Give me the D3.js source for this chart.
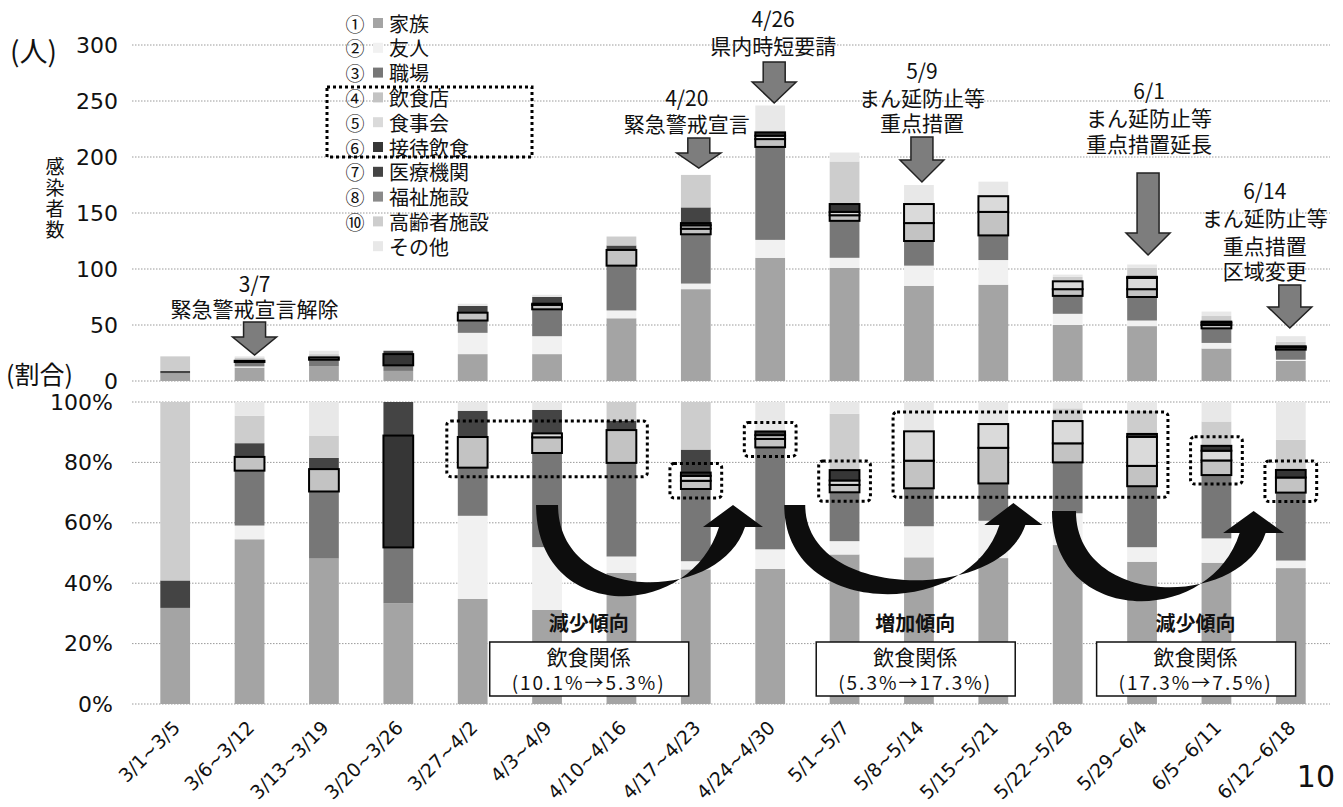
<!DOCTYPE html>
<html>
<head>
<meta charset="utf-8">
<script src="https://cdn.jsdelivr.net/npm/d3@7"></script>
<style>
  body { margin: 0; background: #fff; }
  svg text { font-family: "Noto Sans CJK JP", "Noto Sans", sans-serif; fill: #111; }
</style>
</head>
<body>
<svg id="chart" width="1343" height="807"></svg>
<script>
// Weekly infections by route (people)
const weeks = ["3/1~3/5","3/6~3/12","3/13~3/19","3/20~3/26","3/27~4/2","4/3~4/9","4/10~4/16","4/17~4/23",
               "4/24~4/30","5/1~5/7","5/8~5/14","5/15~5/21","5/22~5/28","5/29~6/4","6/5~6/11","6/12~6/18"];
const family     = [7,12,13, 9,24,24,56,82,110,101,85,86,50,49,29,18];
const friends    = [0, 1, 0, 0,19,16, 7, 5, 16,  9,18,22,10, 5, 5, 1];
const workplace  = [0, 4, 6, 5,11,24,40,44, 83, 33,22,22,16,21,13, 9];
const restaurant = [0, 1, 2, 0, 7, 4,14, 5,  7,  5,16,21, 6, 7, 3, 2];
const dinner     = [0, 0, 0, 0, 0, 1, 0, 3,  3,  3,17,14, 7,10, 2, 0];
const hosting    = [0, 0, 0,10, 0, 0, 0, 2,  3,  7, 0, 0, 0, 1, 1, 1];
const medical    = [2, 1, 1, 3, 6, 6, 4,14,  0,  0, 0, 0, 0, 0, 0, 0];
const welfare    = [0, 0, 0, 0, 0, 0, 0, 0,  0,  0, 0, 0, 0, 0, 0, 0];
const elderly    = [13,2, 2, 0, 0, 0, 8,29,  0, 38, 0, 0, 4, 8, 5, 4];
const other      = [0, 1, 3, 0, 2, 2, 0, 0, 24,  8,17,13, 2, 3, 4, 5];

const routeNames = ["家族","友人","職場","飲食店","食事会","接待飲食","医療機関","福祉施設","高齢者施設","その他"];
const routeMarks = ["①","②","③","④","⑤","⑥","⑦","⑧","⑩",""];
const countTicks = [0,50,100,150,200,250,300];
const shareTicks = [0,0.2,0.4,0.6,0.8,1];

// Policy events shown above the count chart
const eventLines = [
  ["3/7","緊急警戒宣言解除"],
  ["4/20","緊急警戒宣言"],
  ["4/26","県内時短要請"],
  ["5/9","まん延防止等","重点措置"],
  ["6/1","まん延防止等","重点措置延長"],
  ["6/14","まん延防止等","重点措置","区域変更"]
];
const trendTitles = ["減少傾向","増加傾向","減少傾向"];
const trendLabel = "飲食関係";
const trendRatios = ["(10.1%→5.3%)","(5.3%→17.3%)","(17.3%→7.5%)"];
const restaurantGroups = [[4,6],[7,7],[8,8],[9,9],[10,13],[14,14],[15,15]];
const pageNumber = "10";

const seriesArrays = [family,friends,workplace,restaurant,dinner,hosting,medical,welfare,elderly,other];
const rows = weeks.map((w,i) => {
  const r = {week: w};
  routeNames.forEach((k,j) => r[k] = seriesArrays[j][i]);
  return r;
});

const fills = {
  "家族":"#a4a4a4","友人":"#f1f1f1","職場":"#777777","飲食店":"#c3c3c3","食事会":"#dadada",
  "接待飲食":"#363636","医療機関":"#444444","福祉施設":"#8a8a8a","高齢者施設":"#cdcdcd","その他":"#e8e8e8"
};
const outlined = new Set(["飲食店","食事会","接待飲食"]);

const svg = d3.select("#chart");

const x = d3.scaleBand().domain(weeks).range([138,1328]).paddingInner(0.6).paddingOuter(0.3);
const yCount = d3.scaleLinear().domain([0,300]).range([381,45]);
const yShare = d3.scaleLinear().domain([0,1]).range([704,402]);
const step = x.step(), bw = x.bandwidth();
const cx = i => x(weeks[0]) + bw/2 + i*step;   // fractional bar index -> centre x

// multi-line text block: one <text>, one <tspan> per line
function textBlock(g, tx, ys, lines, size, anchor) {
  const t = g.append("text").attr("font-size",size).attr("text-anchor",anchor || "middle");
  lines.forEach((s,j) => t.append("tspan").attr("x",tx).attr("y",ys[j])
    .attr("dominant-baseline","central").text(s));
  return t;
}

// grid lines
const gridL = 132, gridR = 1330;
svg.append("g").selectAll("line").data(countTicks).join("line")
  .attr("x1",gridL).attr("x2",gridR).attr("y1",d=>yCount(d)).attr("y2",d=>yCount(d))
  .attr("stroke","#9a9a9a").attr("stroke-width",1).attr("stroke-dasharray","1.5,1.5");
svg.append("g").selectAll("line").data(shareTicks).join("line")
  .attr("x1",gridL).attr("x2",gridR).attr("y1",d=>yShare(d)).attr("y2",d=>yShare(d))
  .attr("stroke","#9a9a9a").attr("stroke-width",1).attr("stroke-dasharray","1.5,1.5");

// y axes
const axCount = svg.append("g").attr("transform","translate(120,0)")
  .call(d3.axisLeft(yCount).tickValues(countTicks).tickSize(0).tickPadding(2));
const axShare = svg.append("g").attr("transform","translate(115,0)")
  .call(d3.axisLeft(yShare).tickValues(shareTicks).tickFormat(d3.format(".0%")).tickSize(0).tickPadding(2));
[axCount, axShare].forEach(a => {
  a.select(".domain").remove();
  a.selectAll("text").attr("font-size",22).attr("fill","#111")
    .style("font-family","'DejaVu Sans', 'Noto Sans CJK JP', sans-serif");
});

svg.append("text").attr("x",10).attr("y",50).attr("dominant-baseline","central")
  .attr("font-size",28).text("(人)");
svg.append("text").attr("x",6).attr("y",373).attr("dominant-baseline","central")
  .attr("font-size",25).text("(割合)");
svg.append("text").attr("x",55).attr("y",157)
  .style("writing-mode","vertical-rl").attr("font-size",19).attr("letter-spacing",2)
  .text("感染者数");

// stacked bars
function drawStack(g, stacked, y) {
  const layers = g.selectAll("g.layer").data(stacked).join("g").attr("class","layer")
    .attr("fill", d => fills[d.key]);
  layers.selectAll("rect").data(d => d.map(v => Object.assign(v,{key:d.key})).filter(v => v[1] > v[0]))
    .join("rect")
    .attr("x", d => x(d.data.week)).attr("width", bw)
    .attr("y", d => y(d[1])).attr("height", d => y(d[0]) - y(d[1]))
    .attr("stroke", d => outlined.has(d.key) ? "#000" : "none")
    .attr("stroke-width", 2);
  layers.filter(d => outlined.has(d.key)).raise();
}
const stackCount = d3.stack().keys(routeNames)(rows);
const stackShare = d3.stack().keys(routeNames).offset(d3.stackOffsetExpand)(rows);
drawStack(svg.append("g"), stackCount, yCount);
drawStack(svg.append("g"), stackShare, yShare);

// x labels
svg.append("g").selectAll("text").data(weeks).join("text")
  .attr("transform", d => `translate(${x(d)+bw/2+6},729) rotate(-45)`)
  .attr("text-anchor","end").attr("font-size",19)
  .style("font-family","'DejaVu Sans', 'Noto Sans CJK JP', sans-serif").text(d => d);

// legend
const lg = svg.append("g");
const legendY = routeNames.map((k,i) => 23 + i*24.8);
textBlock(lg, 355, legendY, routeMarks, 19, "middle");
lg.selectAll("rect.sw").data(routeNames).join("rect").attr("class","sw")
  .attr("x",373).attr("y",(k,i)=>legendY[i]-5).attr("width",10).attr("height",10).attr("fill",k=>fills[k]);
textBlock(lg, 389, legendY, routeNames, 20, "start");
lg.append("rect").attr("x",327).attr("y",87).attr("width",205).attr("height",70)
  .attr("fill","none").attr("stroke","#000").attr("stroke-width",3).attr("stroke-dasharray","3,3");

// dotted frames around the restaurant-related segments (share chart)
const rIdx = routeNames.indexOf("飲食店"), hIdx = routeNames.indexOf("接待飲食");
svg.append("g").selectAll("rect").data(restaurantGroups).join("rect")
  .each(function([a,b]) {
    let lo = 1, hi = 0;
    for (let i = a; i <= b; i++) {
      lo = Math.min(lo, stackShare[rIdx][i][0]);
      hi = Math.max(hi, stackShare[hIdx][i][1]);
    }
    const x0 = x(weeks[a]) - 11, x1 = x(weeks[b]) + bw + 11;
    d3.select(this).attr("x",x0).attr("width",x1-x0)
      .attr("y",yShare(hi)-9).attr("height",yShare(lo)-yShare(hi)+18);
  })
  .attr("rx",4).attr("fill","none").attr("stroke","#000").attr("stroke-width",3).attr("stroke-dasharray","3,3");

// curved trend arrows
function curvedArrow(tailC, tailW, tipX, topY, tipY, baseY, bottomY, headW) {
  const L = tailC - tailW/2, R = tailC + tailW/2;
  const jL = tipX - 14, jR = tipX + 12;
  const k = 0.125*(topY + baseY);
  const yo = (bottomY - k)/0.75, yi = (bottomY - 14 - k)/0.75;
  return `M${L},${topY} C${L},${yo} ${jL-30},${yo} ${jL},${baseY}` +
         ` L${tipX-headW/2},${baseY} L${tipX},${tipY} L${tipX+headW/2},${baseY} L${jR},${baseY}` +
         ` C${jR-25},${yi} ${R},${yi} ${R},${topY} Z`;
}
const curveLayout = [
  {from:5,    w:22, to:7.5,  top:505, tip:505, base:527, bottom:596, head:60},
  {from:8.33, w:21, to:11.27,top:505, tip:503, base:525, bottom:594, head:58},
  {from:11.95,w:24, to:14.5, top:511, tip:511, base:533, bottom:601, head:61}
];
svg.append("g").selectAll("path").data(curveLayout).join("path")
  .attr("d", d => curvedArrow(cx(d.from), d.w, cx(d.to), d.top, d.tip, d.base, d.bottom, d.head))
  .attr("fill","#0d0d0d");

// trend captions
const captionPos = [5.56, 9.95, 13.72];
trendTitles.forEach((t,i) => {
  const c = cx(captionPos[i]);
  svg.append("text").attr("x",c).attr("y",622).attr("text-anchor","middle").attr("dominant-baseline","central")
    .attr("font-size",20).attr("font-weight","bold").text(t);
  svg.append("rect").attr("x",c-99).attr("y",642).attr("width",199).attr("height",54)
    .attr("fill","#fff").attr("stroke","#111").attr("stroke-width",1.5);
  const tb = svg.append("text").attr("text-anchor","middle");
  tb.append("tspan").attr("x",c).attr("y",656).attr("dominant-baseline","central")
    .attr("font-size",21).text(trendLabel);
  tb.append("tspan").attr("x",c).attr("y",681).attr("dominant-baseline","central")
    .attr("font-size",19).attr("letter-spacing",2).text(trendRatios[i]);
});

// policy event callouts with block arrows
const eventLayout = [
  {bar:1,  dx:5,  textY:[283,308],          top:322, neck:337, tip:355},
  {bar:7,  dx:-9, textY:[97,123],           top:138, neck:153, tip:168, adx:3},
  {bar:8,  dx:3,  textY:[18,45],            top:62,  neck:82,  tip:103, adx:4},
  {bar:10, dx:3,  textY:[70,97,122],        top:137, neck:160, tip:182, adx:3},
  {bar:13, dx:7,  textY:[90,117,143],       top:173, neck:233, tip:255, adx:6},
  {bar:15, dx:-26,textY:[190,217,245,270],  top:285, neck:307, tip:328, adx:-1}
];
const ev = svg.append("g");
eventLayout.forEach((e,i) => {
  textBlock(ev, cx(e.bar) + e.dx, e.textY, eventLines[i], 21, "middle");
  const ax = cx(e.bar) + (e.adx !== undefined ? e.adx : e.dx);
  const sw = 11, hw = 22;
  ev.append("path")
    .attr("d", `M${ax-sw},${e.top} L${ax+sw},${e.top} L${ax+sw},${e.neck} L${ax+hw},${e.neck} L${ax},${e.tip} L${ax-hw},${e.neck} L${ax-sw},${e.neck} Z`)
    .attr("fill","#7d7d7d").attr("stroke","#222").attr("stroke-width",1.5).attr("stroke-linejoin","miter");
});

svg.append("text").attr("x",1335).attr("y",776).attr("text-anchor","end").attr("dominant-baseline","central")
  .attr("font-size",30).style("font-family","'DejaVu Sans', sans-serif").text(pageNumber);
</script>
</body>
</html>
